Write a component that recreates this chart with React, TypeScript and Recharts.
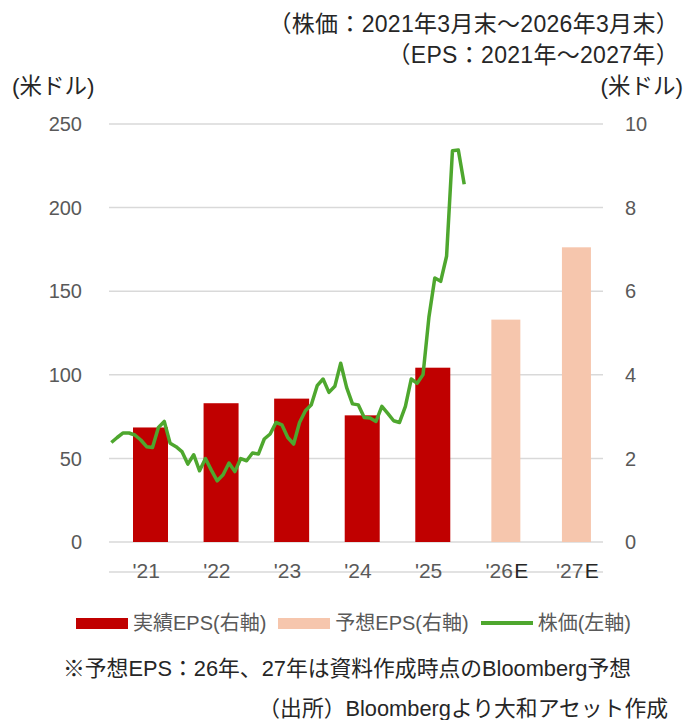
import { Bar, CartesianGrid, ComposedChart, Line, XAxis, YAxis } from "recharts";

const FONT = "'Liberation Sans', 'Noto Sans CJK JP', sans-serif";
const GREY = "#595959";
const DARK = "#262626";
const RED = "#c00000";
const PEACH = "#f6c6ad";
const GREEN = "#4ea72e";

// EPS by year (right axis, USD)
const YEARS = ["'21", "'22", "'23", "'24", "'25", "'26E", "'27E"];
const ACTUAL_EPS = [2.74, 3.32, 3.43, 3.03, 4.17, null, null];
const FORECAST_EPS = [null, null, null, null, null, 5.32, 7.05];

// month-end price, Mar 2021 .. Mar 2026 (left axis, USD)
const PRICE = [
  59.5, 62.5, 65.2, 65.2, 64, 61, 57, 56.5, 68.5, 72.1, 59, 57, 54.1,
  46.6, 52.2, 42.6, 49.9, 43, 36.6, 40.2, 47.2, 42.1, 49.9, 48.6, 53.2,
  52.6, 61.6, 64.6, 71.5, 70.1, 62.5, 58.6, 71.5, 78.5, 82.1, 93.5, 97.5,
  89.5, 93.1, 106.9, 92.5, 82.6, 82, 74.5, 74.2, 72.1, 81.1, 76.9, 72.5,
  71.5, 81.1, 97.5, 94.9, 100.1, 134.5, 157.9, 155.9, 170.9, 234, 234.4, 214,
];

const LEFT_TICKS = [0, 50, 100, 150, 200, 250];
const RIGHT_TICKS = [0, 2, 4, 6, 8, 10];
const EDGE_TICKS = [0, 1, 2, 3, 4, 5, 6, 7];

const epsData = YEARS.map((year, i) => ({
  year,
  actual: ACTUAL_EPS[i],
  forecast: FORECAST_EPS[i],
}));
const priceData = PRICE.map((price, month) => ({ month, price }));

// Excel-style bar placement: bars sit a little right of the band centre
const offsetBar = (dx: number, shrink: number) => (props: any) => {
  const { x, y, width, height, fill } = props;
  if (!height || height <= 0) return <g />;
  return (
    <rect
      x={x + dx + shrink / 2}
      y={y}
      width={width - shrink}
      height={height}
      fill={fill}
    />
  );
};

function YearTick({ x, y, payload }: any) {
  const label: string = payload.value;
  const est = label.endsWith("E");
  const base = est ? label.slice(0, -1) : label;
  return (
    <g>
      <text x={x + 2} y={y} dy="0.71em" textAnchor="middle" fontSize={21} fontFamily={FONT} fill={GREY}>
        {base}
      </text>
      {est && (
        <text x={x + 17} y={y} dy="0.71em" textAnchor="start" fontSize={21} fontFamily={FONT} fill={DARK}>
          E
        </text>
      )}
    </g>
  );
}

function LegendRow() {
  const item = (swatch: any, label: string, gap: number) => (
    <div style={{ display: "flex", alignItems: "center", marginRight: gap }}>
      {swatch}
      <span style={{ marginLeft: 5 }}>{label}</span>
    </div>
  );
  return (
    <div
      style={{
        position: "absolute",
        left: 76,
        top: 608,
        display: "flex",
        alignItems: "center",
        fontSize: 20,
        lineHeight: "30px",
        color: GREY,
        fontFamily: FONT,
        whiteSpace: "nowrap",
      }}
    >
      {item(<div style={{ width: 52, height: 11, background: RED }} />, "実績EPS(右軸)", 12)}
      {item(<div style={{ width: 52, height: 11, background: PEACH }} />, "予想EPS(右軸)", 12)}
      {item(<div style={{ width: 52, height: 4, background: GREEN }} />, "株価(左軸)", 0)}
    </div>
  );
}

const textStyle = (extra: any) => ({
  position: "absolute" as const,
  fontFamily: FONT,
  fontSize: 22,
  lineHeight: "30px",
  color: DARK,
  whiteSpace: "nowrap" as const,
  ...extra,
});

export default function App() {
  return (
    <div style={{ position: "absolute", left: 0, top: 0, width: 686, height: 720, background: "#fff" }}>
      <div style={textStyle({ right: 7, top: 9, fontSize: 23, letterSpacing: 0.3 })}>（株価：2021年3月末～2026年3月末）</div>
      <div style={textStyle({ right: 7, top: 40, fontSize: 23, letterSpacing: 0.3 })}>（EPS：2021年～2027年）</div>
      <div style={textStyle({ left: 12, top: 72, fontSize: 22.5 })}>(米ドル)</div>
      <div style={textStyle({ right: 3, top: 72, fontSize: 22.5 })}>(米ドル)</div>

      <div style={{ position: "absolute", left: 0, top: 0 }}>
        <ComposedChart
          width={686}
          height={600}
          data={epsData}
          margin={{ top: 124, right: 0, bottom: 27, left: 0 }}
        >
          <CartesianGrid xAxisId="cat" yAxisId="left" vertical={false} stroke="#d9d9d9" strokeWidth={1.5} />
          <XAxis
            xAxisId="edges"
            type="number"
            domain={[0, 7]}
            ticks={EDGE_TICKS}
            tick={false}
            tickSize={6}
            height={1}
            stroke="#d9d9d9"
            axisLine={{ stroke: "#d9d9d9", strokeWidth: 1.5 }}
            tickLine={{ stroke: "#d9d9d9", strokeWidth: 1.5 }}
          />
          <XAxis
            xAxisId="cat"
            dataKey="year"
            axisLine={false}
            tickLine={false}
            tickSize={0}
            tickMargin={21}
            height={30}
            interval={0}
            tick={<YearTick />}
          />
          <XAxis xAxisId="month" type="number" dataKey="month" domain={[-0.4, 83.6]} hide allowDataOverflow />
          <YAxis
            yAxisId="left"
            domain={[0, 250]}
            ticks={LEFT_TICKS}
            width={109}
            axisLine={false}
            tickLine={false}
            tickSize={0}
            tickMargin={27}
            tick={{ fontSize: 20, fill: GREY, fontFamily: FONT }}
          />
          <YAxis
            yAxisId="right"
            orientation="right"
            domain={[0, 10]}
            ticks={RIGHT_TICKS}
            width={83}
            axisLine={false}
            tickLine={false}
            tickSize={0}
            tickMargin={22}
            tick={{ fontSize: 20, fill: GREY, fontFamily: FONT, textAnchor: "start" }}
          />
          <Bar
            xAxisId="cat"
            yAxisId="right"
            dataKey="actual"
            stackId="eps"
            barSize={35}
            fill={RED}
            shape={offsetBar(6, 0)}
            isAnimationActive={false}
          />
          <Bar
            xAxisId="cat"
            yAxisId="right"
            dataKey="forecast"
            stackId="eps"
            barSize={35}
            fill={PEACH}
            shape={offsetBar(8.5, 6)}
            isAnimationActive={false}
          />
          <Line
            xAxisId="month"
            yAxisId="left"
            data={priceData}
            dataKey="price"
            type="linear"
            stroke={GREEN}
            strokeWidth={3.5}
            strokeLinejoin="round"
            dot={false}
            activeDot={false}
            isAnimationActive={false}
          />
        </ComposedChart>
      </div>

      <LegendRow />
      <div style={textStyle({ left: 63, top: 654, fontSize: 21.8 })}>※予想EPS：26年、27年は資料作成時点のBloomberg予想</div>
      <div style={textStyle({ right: 18, top: 694, fontSize: 21.8 })}>（出所）Bloombergより大和アセット作成</div>
    </div>
  );
}
